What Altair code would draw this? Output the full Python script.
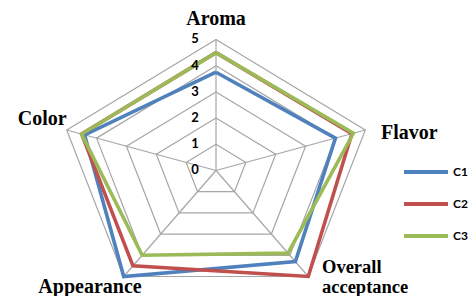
import altair as alt
import pandas as pd

attributes = ["Aroma", "Flavor", "Overall acceptance", "Appearance", "Color"]
series = ["C1", "C2", "C3"]
c1 = [3.75, 4.0, 4.3, 5.0, 4.4]
c2 = [4.5, 4.55, 5.0, 4.5, 4.5]
c3 = [4.5, 4.6, 3.9, 4.0, 4.5]
ticks = [0, 1, 2, 3, 4, 5]
colors = ["#4f81bd", "#c0504d", "#9bbb59"]

n = len(attributes)
rows = []
for s, vals in zip(series, [c1, c2, c3]):
    for i in range(n + 1):
        k = i % n
        rows.append({"series": s, "attr": attributes[k], "idx": k, "order": i, "value": vals[k]})
df = pd.DataFrame(rows)

grid_rows = []
for r in ticks[1:]:
    for i in range(n + 1):
        grid_rows.append({"ring": r, "idx": i % n, "order": i, "value": r})
grid = pd.DataFrame(grid_rows)
spokes = pd.DataFrame({"idx": list(range(n)), "attr": attributes, "value": [ticks[-1]] * n})
tick_df = pd.DataFrame({"value": ticks, "label": [str(t) for t in ticks]})

xs = alt.Scale(domain=[-6.624, 8.025], nice=False, zero=False)
ys = alt.Scale(domain=[-4.790, 6.202], nice=False, zero=False)
X = alt.X("x:Q", scale=xs, axis=None)
Y = alt.Y("y:Q", scale=ys, axis=None)

ANG = "datum.idx*2*PI/5"
def polar(ch):
    return ch.transform_calculate(
        x=f"datum.value*sin({ANG})", y=f"datum.value*cos({ANG})"
    )

gridcol = "#a6a6a6"
rings = polar(alt.Chart(grid)).mark_line(color=gridcol, strokeWidth=1.2).encode(
    x=X, y=Y, detail="ring:N", order="order:Q"
)
spoke = polar(alt.Chart(spokes)).transform_calculate(x0="0", y0="0").mark_rule(
    color=gridcol, strokeWidth=1.2
).encode(x=alt.X("x0:Q", scale=xs, axis=None), y=alt.Y("y0:Q", scale=ys, axis=None), x2="x:Q", y2="y:Q")

lines = polar(alt.Chart(df)).mark_line(strokeWidth=3.6, strokeJoin="miter").encode(
    x=X, y=Y, order="order:Q",
    color=alt.Color(
        "series:N",
        scale=alt.Scale(domain=series, range=colors),
        legend=alt.Legend(
            title=None, orient="none", legendX=394, legendY=140,
            symbolType="stroke", symbolSize=1936, symbolStrokeWidth=4,
            labelFont="Lato", labelFontWeight="bold", labelFontSize=12,
            labelColor="#000", rowPadding=-21, labelOffset=3,
        ),
    ),
)

# tick labels sit a little left of the vertical (Aroma) spoke
tick_text = alt.Chart(tick_df).transform_calculate(x="-0.55", y="datum.value").mark_text(
    align="right", baseline="middle", font="Lato", fontWeight="bold",
    fontSize=13, color="#000"
).encode(x=X, y=Y, text="label:N")

def attr_label(text, idx, align, dx, dy, size=20):
    d = pd.DataFrame({"label": [text], "idx": [idx], "value": [ticks[-1]]})
    return polar(alt.Chart(d)).mark_text(
        align=align, baseline="alphabetic", dx=dx, dy=dy,
        font="Liberation Serif", fontWeight="bold", fontSize=size, color="#000"
    ).encode(x=X, y=Y, text="label:N")

labels = [
    attr_label("Aroma", 0, "center", 0, -14.5),
    attr_label("Flavor", 1, "left", 15.7, 9),
    attr_label("Overall", 2, "left", 13.7, -3, 18.5),
    attr_label("acceptance", 2, "left", 13.7, 16.5, 18.5),
    attr_label("Appearance", 3, "center", -33.7, 16.5),
    attr_label("Color", 4, "right", 0, -5),
]

chart = alt.layer(rings, spoke, lines, tick_text, *labels).properties(
    width=460, height=288, padding=0, autosize=alt.AutoSizeParams(type="none")
).configure_view(stroke=None)

chart.save("out.html", embed_options={"renderer": "svg", "actions": False})
